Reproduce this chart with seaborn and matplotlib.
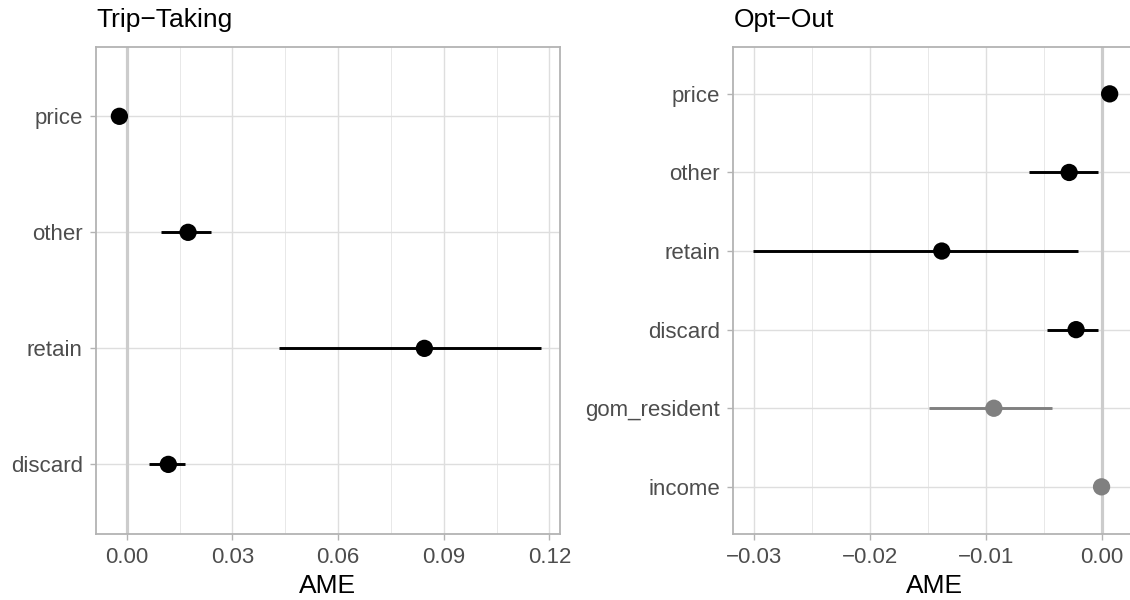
import numpy as np
import pandas as pd
import seaborn as sns
import matplotlib.pyplot as plt
from matplotlib.ticker import MultipleLocator, FuncFormatter

# Trip-Taking 面板
trip_terms = ['price', 'other', 'retain', 'discard']
trip_ame = [-0.0021, 0.0174, 0.0845, 0.0118]
trip_lo = [-0.0027, 0.0096, 0.0433, 0.0062]
trip_hi = [-0.0015, 0.0238, 0.1175, 0.0166]
trip_group = ['catch', 'catch', 'catch', 'catch']

# Opt-Out 面板
opt_terms = ['price', 'other', 'retain', 'discard', 'gom_resident', 'income']
opt_ame = [0.0007, -0.0028, -0.0138, -0.0022, -0.0093, 0.0000]
opt_lo = [0.0002, -0.0063, -0.0301, -0.0047, -0.0149, -0.0002]
opt_hi = [0.0012, -0.0003, -0.0020, -0.0003, -0.0043, 0.0002]
opt_group = ['catch', 'catch', 'catch', 'catch', 'control', 'control']

colors = {'catch': 'black', 'control': '#808080'}

sns.set_theme(style='white')
plt.rcParams['font.family'] = ['Liberation Sans', 'DejaVu Sans']


def fmt(v, pos):
    if abs(v) < 1e-12:
        v = 0.0
    return f'{v:.2f}'.replace('-', '\u2212')


def draw_panel(ax, terms, ame, lo, hi, group, title, major, minor, xlim):
    df = pd.DataFrame({'term': terms, 'ame': ame, 'lo': lo, 'hi': hi, 'group': group})
    n = len(terms)

    # 置信区间 + 点估计
    sns.scatterplot(data=df, x='ame', y='term', hue='group', palette=colors,
                    s=155, edgecolor='none', legend=False, ax=ax, zorder=3)
    ax.hlines(df['term'], df['lo'], df['hi'],
              colors=[colors[g] for g in df['group']], lw=2.1, zorder=2)
    ax.axvline(0, color='#cccccc', lw=2.3, zorder=1.5)

    ax.set_xlim(*xlim)
    ax.set_ylim(n - 0.4, -0.6)
    ax.xaxis.set_major_locator(MultipleLocator(major))
    ax.xaxis.set_minor_locator(MultipleLocator(minor))
    ax.xaxis.set_major_formatter(FuncFormatter(fmt))

    ax.grid(which='major', color='#dedede', lw=1.0, zorder=0)
    ax.grid(which='minor', axis='x', color='#e8e8e8', lw=0.7, zorder=0)
    ax.set_axisbelow(True)

    for sp in ax.spines.values():
        sp.set_color('#b3b3b3')
        sp.set_linewidth(1.3)

    ax.tick_params(which='major', length=4.5, width=1, color='#b3b3b3',
                   labelcolor='#4d4d4d', labelsize=16, pad=5,
                   left=True, bottom=True)
    ax.tick_params(which='minor', length=0)

    ax.set_ylabel('')
    ax.set_xlabel('AME', fontsize=19, color='black', labelpad=4)
    ax.set_title(title, loc='left', fontsize=19, pad=14, color='black')


fig = plt.figure(figsize=(11.3, 6))
ax1 = fig.add_axes([96 / 1130, 66 / 600, 464 / 1130, 487.3 / 600])
# 右侧面板在原图中被裁切，右边框落在画布之外
ax2 = fig.add_axes([733.3 / 1130, 66 / 600, 403 / 1130, 487.3 / 600])

draw_panel(ax1, trip_terms, trip_ame, trip_lo, trip_hi, trip_group,
           'Trip\u2212Taking', 0.03, 0.015, (-0.00874, 0.1230))
draw_panel(ax2, opt_terms, opt_ame, opt_lo, opt_hi, opt_group,
           'Opt\u2212Out', 0.01, 0.005, (-0.0318, 0.00300))

fig.savefig('out.png', dpi=100)
